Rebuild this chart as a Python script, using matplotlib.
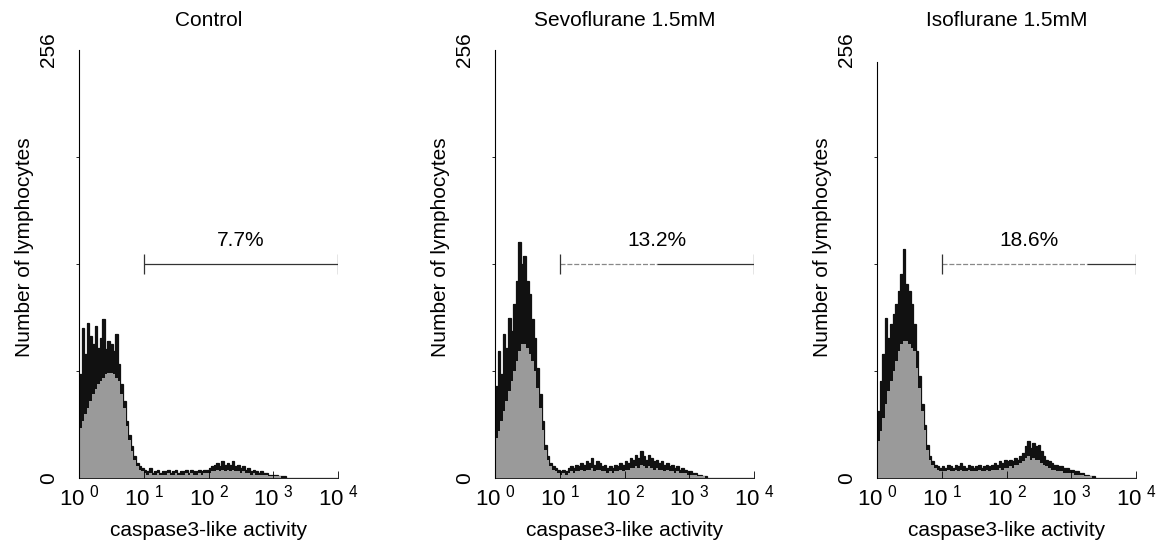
"""Caspase3-like activity histograms (flow cytometry): Control / Sevoflurane / Isoflurane."""

import matplotlib

matplotlib.use("Agg")
import matplotlib.pyplot as plt
import numpy as np

plt.rcParams.update({
    "font.family": ["Liberation Sans", "DejaVu Sans"],
    "font.size": 15,
    "mathtext.default": "regular",
})

# 100 log channels spanning 10^0 .. 10^4 (25 channels per decade)
N_CH = 100

# counts per channel: outer (spiky) envelope and dense core
ctrl_top = [62, 90, 74, 93, 85, 80, 91, 78, 84, 95, 77, 82, 80, 76, 86, 68, 56, 46, 34, 26, 19, 13, 9, 7, 6,
            5, 4, 6, 3, 4, 5, 3, 4, 4, 5, 3, 4, 5, 3, 4, 4, 5, 3, 5, 4, 4, 5, 4, 5, 5,
            6, 7, 8, 9, 7, 10, 8, 9, 8, 10, 7, 8, 6, 7, 5, 6, 4, 5, 4, 3, 4, 3, 3, 2, 2,
            2, 2, 1, 1, 1, 0, 0, 0, 0, 0, 0, 0, 0, 0, 0, 0, 0, 0, 0, 0, 0, 0, 0, 0, 0]
ctrl_core = [30, 34, 38, 42, 46, 50, 53, 56, 58, 60, 62, 63, 63, 62, 60, 58, 50, 42, 31, 23, 16, 11, 7, 5, 4,
             3, 2, 3, 2, 2, 3, 2, 2, 2, 3, 2, 2, 3, 2, 2, 2, 3, 2, 3, 2, 2, 3, 2, 3, 3,
             3, 4, 4, 5, 4, 5, 4, 5, 4, 5, 4, 4, 3, 4, 3, 3, 2, 3, 2, 2, 2, 2, 2, 1, 1,
             1, 1, 1, 0, 0, 0, 0, 0, 0, 0, 0, 0, 0, 0, 0, 0, 0, 0, 0, 0, 0, 0, 0, 0, 0]

sevo_top = [55, 76, 62, 86, 78, 96, 88, 104, 118, 141, 128, 133, 118, 110, 95, 84, 66, 50, 34, 20, 13, 9, 7, 6, 5,
            4, 5, 4, 6, 7, 6, 8, 7, 9, 8, 10, 9, 12, 8, 10, 9, 7, 8, 6, 7, 6, 8, 7, 9, 8,
            10, 9, 12, 11, 14, 12, 16, 13, 11, 14, 12, 10, 11, 9, 10, 8, 9, 7, 8, 6, 7, 5, 6, 5, 4,
            4, 3, 3, 2, 2, 1, 1, 0, 0, 0, 0, 0, 0, 0, 0, 0, 0, 0, 0, 0, 0, 0, 0, 0, 0]
sevo_core = [24, 28, 34, 40, 46, 52, 58, 64, 70, 76, 80, 80, 78, 74, 70, 64, 54, 42, 29, 17, 11, 7, 5, 4, 3,
             2, 3, 2, 3, 4, 3, 4, 4, 5, 4, 5, 5, 6, 4, 5, 5, 4, 4, 3, 4, 3, 4, 4, 5, 4,
             5, 5, 6, 6, 7, 6, 8, 7, 6, 7, 6, 5, 6, 5, 5, 4, 5, 4, 4, 3, 4, 3, 3, 3, 2,
             2, 2, 2, 1, 1, 1, 0, 0, 0, 0, 0, 0, 0, 0, 0, 0, 0, 0, 0, 0, 0, 0, 0, 0, 0]

iso_top = [40, 58, 74, 96, 84, 92, 98, 104, 112, 122, 137, 116, 112, 104, 92, 76, 61, 44, 32, 20, 13, 10, 8, 7, 6,
           7, 6, 8, 7, 6, 8, 7, 9, 7, 6, 8, 7, 6, 7, 8, 6, 7, 8, 7, 8, 9, 8, 10, 9, 11,
           10, 11, 10, 12, 11, 13, 15, 19, 22, 18, 21, 19, 20, 16, 13, 11, 10, 9, 8, 8, 7, 7, 6, 6, 5,
           5, 4, 4, 3, 3, 2, 2, 1, 1, 0, 0, 0, 0, 0, 0, 0, 0, 0, 0, 0, 0, 0, 0, 0, 0]
iso_core = [22, 28, 36, 44, 52, 58, 64, 70, 76, 80, 82, 82, 80, 78, 76, 66, 54, 40, 29, 17, 11, 8, 6, 5, 4,
            4, 4, 5, 4, 4, 5, 4, 5, 4, 4, 5, 4, 4, 4, 5, 4, 4, 5, 4, 5, 5, 5, 6, 5, 6,
            6, 7, 6, 8, 8, 9, 10, 12, 13, 11, 12, 11, 11, 9, 8, 7, 6, 5, 5, 4, 4, 4, 3, 3, 3,
            3, 2, 2, 2, 2, 1, 1, 1, 0, 0, 0, 0, 0, 0, 0, 0, 0, 0, 0, 0, 0, 0, 0, 0, 0]

titles = ["Control", "Sevoflurane 1.5mM", "Isoflurane 1.5mM"]
percents = ["7.7%", "13.2%", "18.6%"]
gate_lo, gate_hi = 10, 10000
gate_level = 128
y_max = 256
decade_ticks = [1, 10, 100, 1000, 10000]
decade_labels = [r"10$^{\ 0}$", r"10$^{\ 1}$", r"10$^{\ 2}$", r"10$^{\ 3}$", r"10$^{\ 4}$"]

# layout (figure fractions)
lefts = [79 / 1158, 495 / 1158, 877 / 1158]
AX_W = 259 / 1158
AX_B = 1 - 478 / 543
AX_H = 428 / 543
spine_tops = [256, 256, 249]
pct_x = [10 ** 2.5, 10 ** 2.5, 10 ** 2.35]
faint_until = [None, 10 ** 2.5, 10 ** 3.25]   # left part of gate line drawn faint

COL_DARK = "#111111"
COL_CORE = "#9a9a9a"

fig = plt.figure(figsize=(11.58, 5.43), dpi=100)
edges = np.logspace(0, 4, N_CH + 1)
panels = [(ctrl_top, ctrl_core), (sevo_top, sevo_core), (iso_top, iso_core)]

for k, (top, core) in enumerate(panels):
    ax = fig.add_axes([lefts[k], AX_B, AX_W, AX_H])
    ax.stairs(top, edges, fill=True, color=COL_DARK, lw=0)
    ax.stairs(top, edges, color=COL_DARK, lw=0.9)
    ax.stairs(core, edges, fill=True, color=COL_CORE, lw=0)

    ax.set_xscale("log")
    ax.set_xlim(1, 10000)
    ax.set_ylim(0, y_max)

    for s in ("top", "right"):
        ax.spines[s].set_visible(False)
    ax.spines["left"].set_bounds(0, spine_tops[k])
    ax.spines["left"].set_linewidth(0.8)
    ax.spines["bottom"].set_linewidth(0.6)

    ax.set_xticks(decade_ticks)
    ax.set_xticklabels(decade_labels, fontsize=16)
    ax.tick_params(axis="x", which="major", direction="in", length=5, width=0.6, pad=5)
    ax.tick_params(axis="x", which="minor", direction="in", length=3, width=0.5)

    ax.set_yticks([0, y_max])
    ax.set_yticklabels(["0", "256"], rotation=90, va="center", fontsize=15)
    ax.set_yticks([64, 128, 192], minor=True)
    ax.tick_params(axis="y", which="major", length=0, pad=15)
    ax.tick_params(axis="y", which="minor", direction="out", length=2, width=0.6)

    ax.set_ylabel("Number of lymphocytes", fontsize=15)
    ax.yaxis.set_label_coords(-0.175, 0.54)
    ax.set_xlabel("caspase3-like activity", fontsize=15, labelpad=7)
    ax.text(0.5, 1.068, titles[k], transform=ax.transAxes,
            ha="center", va="center", fontsize=15)

    # gate marker
    if faint_until[k] is None:
        ax.hlines(gate_level, gate_lo, gate_hi, color="#333333", lw=0.9)
    else:
        ax.hlines(gate_level, gate_lo, faint_until[k], color="#888888",
                  lw=0.9, linestyles=(0, (4, 1.5)))
        ax.hlines(gate_level, faint_until[k], gate_hi, color="#333333", lw=0.9)
    ax.vlines([gate_lo, gate_hi], gate_level - 6, gate_level + 6,
              color="#333333", lw=0.9)
    ax.text(pct_x[k], gate_level + 14, percents[k], ha="center", va="center",
            fontsize=15)

fig.savefig("out.png", dpi=100)
